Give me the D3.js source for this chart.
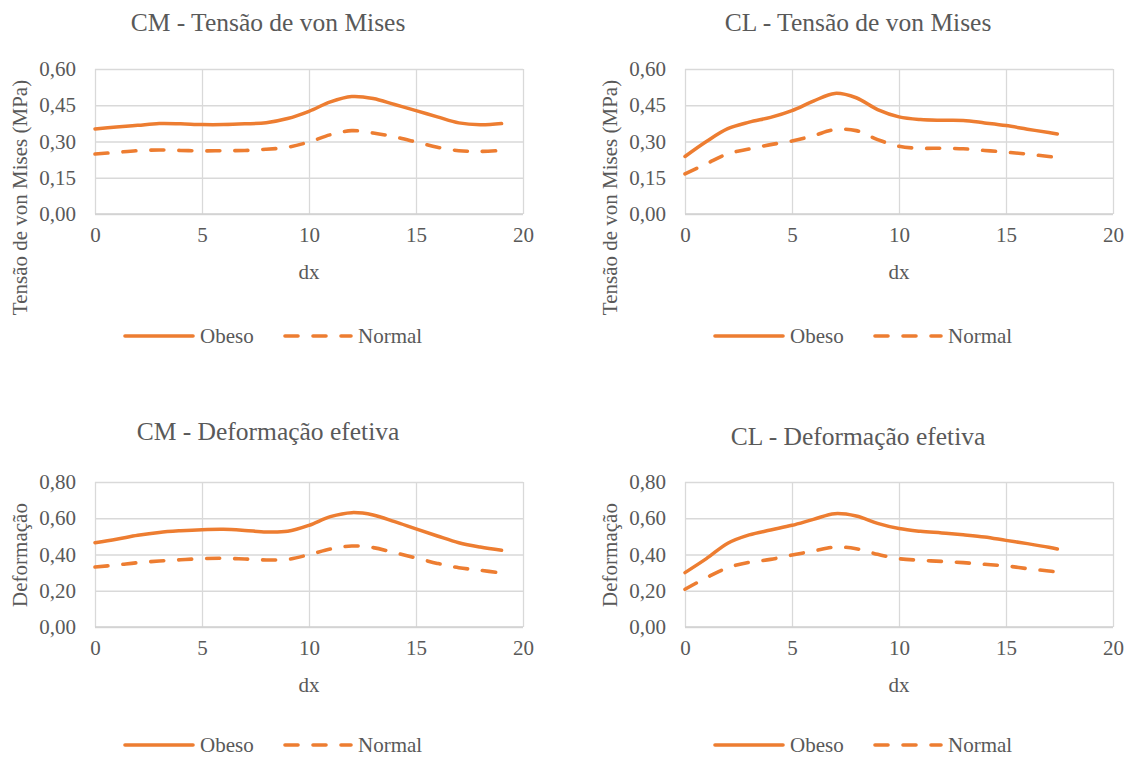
<!DOCTYPE html>
<html>
<head>
<meta charset="utf-8">
<script src="https://cdn.jsdelivr.net/npm/d3@7"></script>
<style>
  html, body { margin: 0; padding: 0; background: #fff; }
  svg { display: block; }
  text { font-family: "Liberation Serif", "Times New Roman", serif; fill: #595959; }
</style>
</head>
<body>
<svg id="chart" width="1127" height="758"></svg>
<script>
// ---------- data ----------
const dxCM = [0,1,2,3,4,5,6,7,8,9,10,11,12,13,14,15,16,17,18,19];
const dxCL = [0,1,2,3,4,5,6,7,8,9,10,11,12,13,14,15,16,17,17.4];

const cmTensaoObeso  = [0.352,0.360,0.367,0.374,0.373,0.370,0.370,0.373,0.378,0.395,0.425,0.464,0.486,0.478,0.453,0.428,0.402,0.377,0.369,0.374];
const cmTensaoNormal = [0.248,0.255,0.262,0.265,0.263,0.261,0.262,0.263,0.268,0.276,0.298,0.328,0.345,0.335,0.319,0.298,0.276,0.262,0.259,0.263];
const clTensaoObeso  = [0.238,0.300,0.353,0.380,0.400,0.428,0.467,0.499,0.481,0.432,0.402,0.391,0.388,0.387,0.377,0.366,0.351,0.337,0.331];
const clTensaoNormal = [0.166,0.208,0.249,0.269,0.287,0.302,0.324,0.349,0.345,0.308,0.280,0.272,0.272,0.270,0.263,0.256,0.248,0.238,0.233];

const cmDefObeso  = [0.465,0.484,0.506,0.522,0.531,0.537,0.539,0.533,0.524,0.528,0.561,0.609,0.631,0.618,0.581,0.541,0.502,0.465,0.441,0.423];
const cmDefNormal = [0.331,0.342,0.355,0.364,0.371,0.377,0.379,0.375,0.370,0.373,0.399,0.430,0.447,0.438,0.410,0.381,0.351,0.327,0.313,0.298];
const clDefObeso  = [0.300,0.377,0.462,0.508,0.535,0.561,0.594,0.625,0.612,0.572,0.543,0.528,0.519,0.509,0.497,0.478,0.460,0.440,0.430];
const clDefNormal = [0.208,0.272,0.327,0.357,0.373,0.397,0.419,0.441,0.432,0.401,0.377,0.368,0.362,0.355,0.346,0.337,0.322,0.309,0.303];

const xTicks = [0,5,10,15,20];
const tensaoTicks = [0,0.15,0.30,0.45,0.60];
const defTicks = [0,0.20,0.40,0.60,0.80];
const seriesNames = ["Obeso","Normal"];

const titles = ["CM - Tensão de von Mises","CL - Tensão de von Mises","CM - Deformação efetiva","CL - Deformação efetiva"];
const yTitles = ["Tensão de von Mises (MPa)","Tensão de von Mises (MPa)","Deformação","Deformação"];
const xTitle = "dx";

// ---------- drawing ----------
const ORANGE = "#ED7D31";
const GRID = "#D9D9D9";
const FONT = "Liberation Serif, Times New Roman, serif";
const locale = d3.formatLocale({decimal: ",", thousands: ".", grouping: [3], currency: ["", ""]});
const fmt = locale.format(".2f");

const svg = d3.select("#chart");

const panels = [
  {x0: 95,  x1: 523,  y0: 69,  y1: 214, dx: dxCM, obeso: cmTensaoObeso, normal: cmTensaoNormal, ticks: tensaoTicks, max: 0.6, title: titles[0], yTitle: yTitles[0], titleY: 22, yTitleY: 197.5, legY: 336},
  {x0: 685, x1: 1113, y0: 69, y1: 214, dx: dxCL, obeso: clTensaoObeso, normal: clTensaoNormal, ticks: tensaoTicks, max: 0.6, title: titles[1], yTitle: yTitles[1], titleY: 22, yTitleY: 197.5, legY: 336},
  {x0: 95,  x1: 523,  y0: 482, y1: 627, dx: dxCM, obeso: cmDefObeso, normal: cmDefNormal, ticks: defTicks, max: 0.8, title: titles[2], yTitle: yTitles[2], titleY: 431, yTitleY: 555, legY: 745},
  {x0: 685, x1: 1113, y0: 482, y1: 627, dx: dxCL, obeso: clDefObeso, normal: clDefNormal, ticks: defTicks, max: 0.8, title: titles[3], yTitle: yTitles[3], titleY: 436, yTitleY: 555, legY: 745}
];

panels.forEach(p => {
  const g = svg.append("g").attr("font-family", FONT);
  const x = d3.scaleLinear().domain([0,20]).range([p.x0, p.x1]);
  const y = d3.scaleLinear().domain([0,p.max]).range([p.y1, p.y0]);

  // vertical gridlines + x tick labels
  const xAxis = d3.axisBottom(x).tickValues(xTicks).tickSize(-(p.y1 - p.y0)).tickPadding(15).tickFormat(d3.format("d"));
  const gx = g.append("g").attr("transform", `translate(0,${p.y1})`).call(xAxis).attr("font-family", FONT);
  gx.select(".domain").remove();
  gx.selectAll(".tick line").attr("stroke", GRID).attr("stroke-width", 1.3);
  gx.selectAll(".tick text").attr("font-size", 21).attr("fill", "#595959").attr("dy", "0.6em");

  // horizontal gridlines + y tick labels
  const yAxis = d3.axisLeft(y).tickValues(p.ticks).tickSize(-(p.x1 - p.x0)).tickPadding(19).tickFormat(fmt);
  const gy = g.append("g").attr("transform", `translate(${p.x0},0)`).call(yAxis).attr("font-family", FONT);
  gy.select(".domain").remove();
  gy.selectAll(".tick line").attr("stroke", GRID).attr("stroke-width", 1.3);
  gy.selectAll(".tick text").attr("font-size", 21).attr("fill", "#595959");

  // bottom axis line slightly darker
  g.append("line").attr("x1", p.x0).attr("x2", p.x1).attr("y1", p.y1).attr("y2", p.y1)
    .attr("stroke", "#D0D0D0").attr("stroke-width", 1.5);

  // series lines
  const line = d3.line().x((d,i) => x(p.dx[i])).y(d => y(d)).curve(d3.curveCatmullRom.alpha(0.5));
  g.append("path").datum(p.obeso).attr("d", line)
    .attr("fill", "none").attr("stroke", ORANGE).attr("stroke-width", 3.5).attr("stroke-linecap", "round").attr("stroke-linejoin", "round");
  g.append("path").datum(p.normal).attr("d", line)
    .attr("fill", "none").attr("stroke", ORANGE).attr("stroke-width", 3.6).attr("stroke-linecap", "round")
    .attr("stroke-dasharray", "13,15");

  // chart title
  const cx = (p.x0 + p.x1) / 2 - 41;
  g.append("text").attr("x", cx).attr("y", p.titleY).attr("text-anchor", "middle").attr("dy", "0.35em")
    .attr("font-size", 25.5).text(p.title);

  // x title
  g.append("text").attr("x", (p.x0 + p.x1) / 2).attr("y", p.y1 + 58).attr("text-anchor", "middle").attr("dy", "0.35em")
    .attr("font-size", 21).text(xTitle);

  // y title
  g.append("text").attr("transform", `translate(${p.x0 - 75},${p.yTitleY}) rotate(-90)`).attr("text-anchor", "middle").attr("dy", "0.35em")
    .attr("font-size", 21).text(p.yTitle);

  // legend
  const ly = p.legY;
  const lx = p.x0 + 30;
  g.append("line").attr("x1", lx).attr("x2", lx + 68).attr("y1", ly).attr("y2", ly)
    .attr("stroke", ORANGE).attr("stroke-width", 3.6).attr("stroke-linecap", "round");
  g.append("text").attr("x", lx + 75).attr("y", ly).attr("dy", "0.33em").attr("font-size", 21).text(seriesNames[0]);
  g.append("line").attr("x1", lx + 160).attr("x2", lx + 226).attr("y1", ly).attr("y2", ly)
    .attr("stroke", ORANGE).attr("stroke-width", 3.6).attr("stroke-linecap", "round").attr("stroke-dasharray", "13,15");
  g.append("text").attr("x", lx + 233).attr("y", ly).attr("dy", "0.33em").attr("font-size", 21).text(seriesNames[1]);
});
</script>
</body>
</html>
